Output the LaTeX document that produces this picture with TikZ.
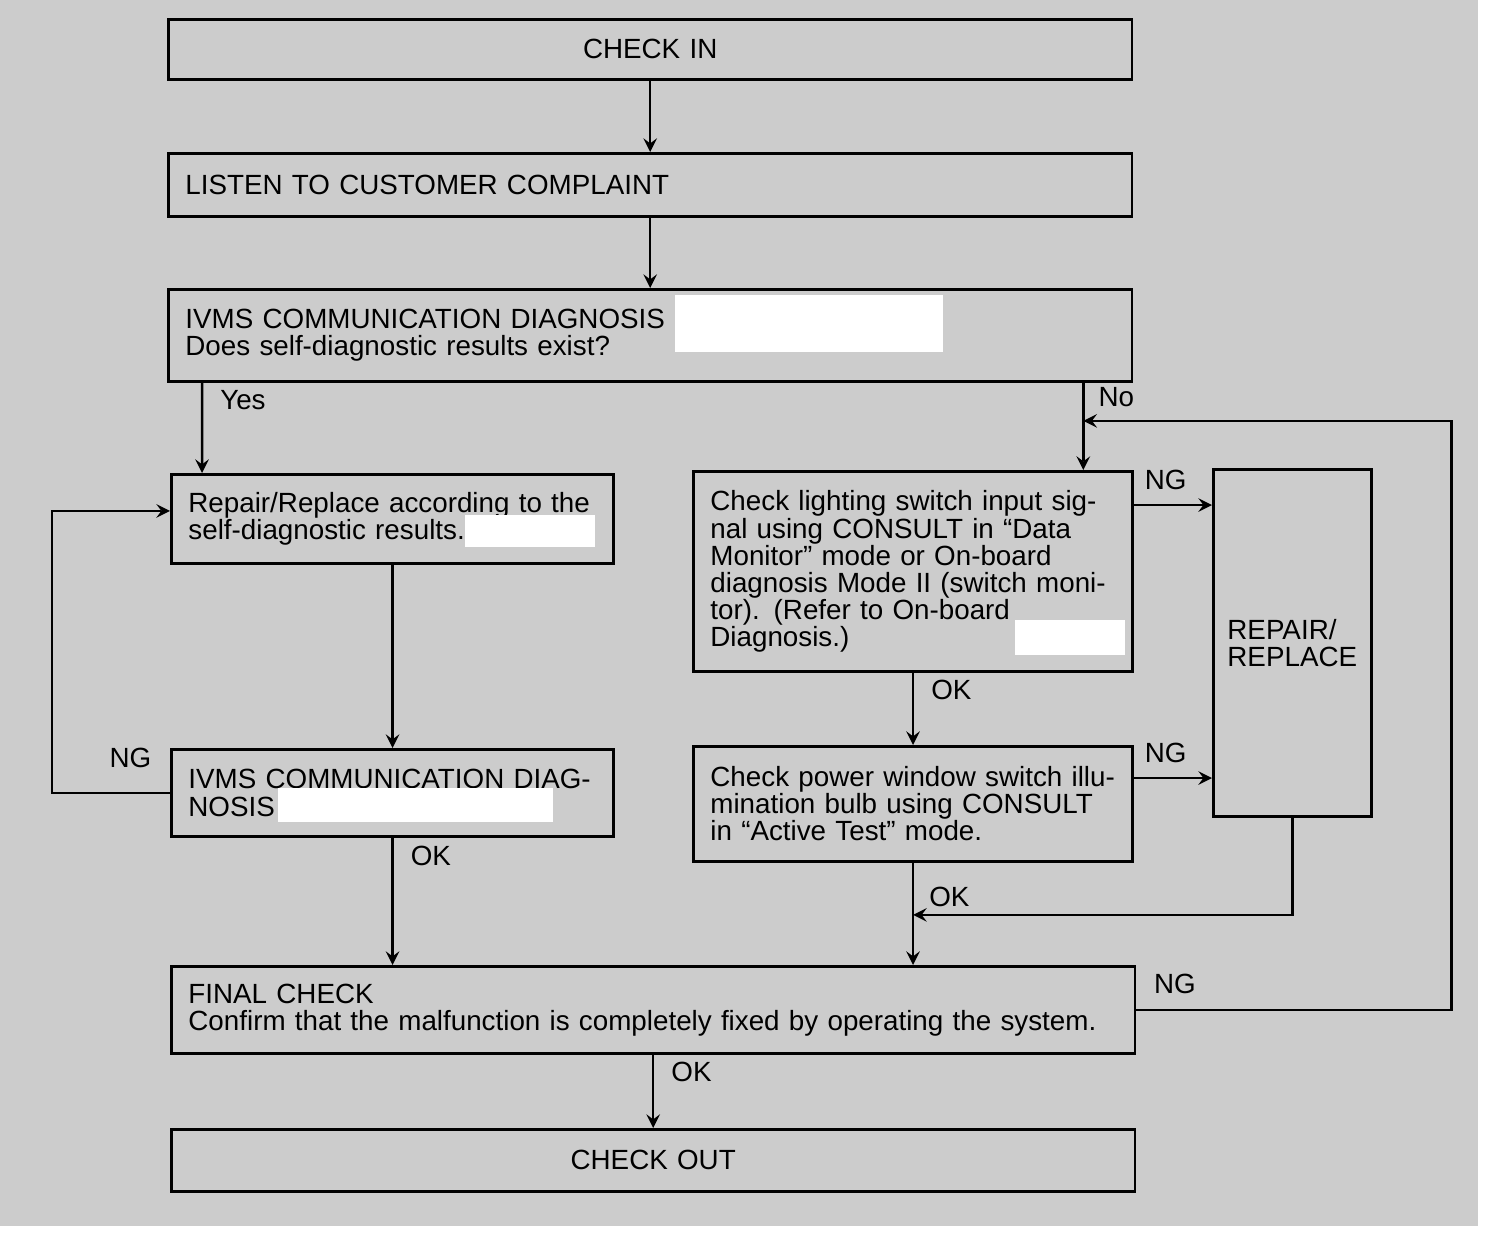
\documentclass[tikz,border=0pt]{standalone}
\usepackage{fontspec}
\setmainfont{Liberation Sans}
\definecolor{paper}{gray}{0.80}
\tikzset{
	box/.style={draw, fill=paper, line width=0.8pt, anchor=north west, inner xsep=0.17cm, inner ysep=0pt, align=left, font=\fontsize{7.9}{7.7}\selectfont},
	arr/.style={line width=0.7pt, -stealth},
	wire/.style={line width=0.7pt},
	lbl/.style={font=\fontsize{7.9}{7.7}\selectfont, inner sep=0pt},
	blank/.style={fill=white, draw=none}
}
\begin{document}
\begin{tikzpicture}[x=0.01cm, y=-0.01cm]
		\useasboundingbox (0,0) rectangle (1488,1234);
		\fill[paper] (0,0) rectangle (1478,1226);

		\node (ci) [box, minimum width=9.63cm, minimum height=0.60cm, text width=9.29cm, align=center] at (167,18) {CHECK IN};
		\node (lc) [box, minimum width=9.63cm, minimum height=0.63cm, text width=9.29cm] at (167,152) {LISTEN TO CUSTOMER COMPLAINT};
		\node (cd) [box, minimum width=9.63cm, minimum height=0.92cm, text width=9.29cm] at (167,288) {IVMS COMMUNICATION DIAGNOSIS\\Does self-diagnostic results exist?};
		\node (rr) [box, minimum width=4.42cm, minimum height=0.89cm, text width=4.08cm] at (170,473) {Repair/Replace according to the\\self-diagnostic results.};
		\node (cd2) [box, minimum width=4.42cm, minimum height=0.87cm, text width=4.08cm] at (170,748) {IVMS COMMUNICATION DIAG-\\NOSIS};
		\node (ls) [box, minimum width=4.39cm, minimum height=2.00cm, text width=4.05cm] at (692,470) {Check lighting switch input sig-\\nal using CONSULT in “Data\\Monitor” mode or On-board\\diagnosis Mode II (switch moni-\\tor). (Refer to On-board\\Diagnosis.)};
		\node (pw) [box, minimum width=4.39cm, minimum height=1.15cm, text width=4.05cm] at (692,745) {Check power window switch illu-\\mination bulb using CONSULT\\in “Active Test” mode.};
		\node (rp) [box, minimum width=1.58cm, minimum height=3.47cm, inner xsep=0pt, text width=1.30cm] at (1212,468) {REPAIR/\\REPLACE};
		\node (fc) [box, minimum width=9.63cm, minimum height=0.87cm, text width=9.29cm] at (170,965) {FINAL CHECK\\Confirm that the malfunction is completely fixed by operating the system.};
		\node (co) [box, minimum width=9.63cm, minimum height=0.62cm, text width=9.29cm, align=center] at (170,1128) {CHECK OUT};

		\fill[blank] (675,295) rectangle (943,352);
		\fill[blank] (465,515) rectangle (595,547);
		\fill[blank] (278,788) rectangle (553,822);
		\fill[blank] (1015,620) rectangle (1125,655);

		\path ([xshift=-0.5cm]cd.south east) ++(0,38) coordinate (noj);
		\path (pw.south) ++(0,52) coordinate (okj);

		\draw[arr] (ci.south) -- (lc.north);
		\draw[arr] (lc.south) -- (cd.south |- lc.south) -- (cd.north);
		\draw[arr] ([xshift=0.35cm]cd.south west) -- ([xshift=0.32cm]rr.north west) node[lbl, pos=0.19, right=0.17cm] {Yes};
		\draw[arr] ([xshift=-0.5cm]cd.south east) -- ([xshift=-0.5cm]cd.south east |- ls.north) node[lbl, pos=0.16, right=0.14cm] {No};
		\draw[arr] (rr.south) -- (rr.south |- cd2.north);
		\draw[arr] (cd2.west) -- ++(-118,0) |- ([yshift=0.08cm]rr.west);
		\node[lbl, anchor=south east] at ([xshift=-0.18cm, yshift=0.24cm]cd2.west) {NG};
		\draw[arr] (cd2.south) -- (cd2.south |- fc.north) node[lbl, pos=0.14, right=0.17cm] {OK};

		\draw[arr] (ls.south) -- (pw.north) node[lbl, pos=0.24, right=0.17cm] {OK};
		\draw[arr] ([yshift=-0.35cm]ls.north east) -- ([yshift=-0.35cm]ls.north east -| rp.west);
		\node[lbl, anchor=south west] at ([xshift=0.1cm, yshift=0.15cm]ls.north east |- 0,505) {NG};
		\draw[arr] ([yshift=-0.33cm]pw.north east) -- ([yshift=-0.33cm]pw.north east -| rp.west);
		\node[lbl, anchor=south west] at ([xshift=0.1cm, yshift=0.15cm]pw.north east |- 0,778) {NG};
		\draw[wire] (pw.south) -- (okj);
		\draw[arr] (rp.south) |- (okj);
		\draw[arr] (okj) -- (okj |- fc.north) node[lbl, pos=-0.35, right=0.15cm] {OK};

		\draw[arr] (fc.east) -- ++(315,0) |- (noj);
		\node[lbl, anchor=south west] at ([xshift=0.17cm, yshift=0.15cm]fc.east) {NG};
		\draw[arr] (fc.south) -- (fc.south |- co.north) node[lbl, pos=0.24, right=0.17cm] {OK};
	\end{tikzpicture}
\end{document}
